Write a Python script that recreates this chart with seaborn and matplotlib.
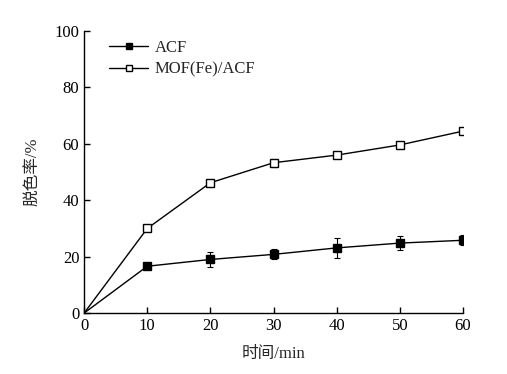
import numpy as np
import matplotlib
matplotlib.use('Agg')
import matplotlib.pyplot as plt
import pandas as pd
import seaborn as sns

tempo = [0, 10, 20, 30, 40, 50, 60]
acf = [0, 16.6, 19.0, 20.8, 23.1, 24.8, 25.8]
acf_err = [0, 1.0, 2.5, 1.8, 3.6, 2.6, 1.8]
mof = [0, 30.0, 46.2, 53.3, 56.0, 59.6, 64.5]
mof_err = [0, 0.8, 0.5, 1.5, 0.5, 1.0, 0.8]
series = ['ACF', 'MOF(Fe)/ACF']

sns.set_style('ticks')
plt.rcParams['font.family'] = ['Liberation Serif', 'Noto Sans CJK SC']

df = pd.DataFrame({
    'tempo': tempo * 2,
    'taxa': acf + mof,
    'serie': [series[0]] * len(tempo) + [series[1]] * len(tempo),
})

fig = plt.figure(figsize=(5.07, 3.74), dpi=100)
ax = fig.add_axes([0.166, 0.163, 0.747, 0.754])

sns.lineplot(data=df, x='tempo', y='taxa', hue='serie', style='serie',
             palette=['black', 'black'], markers=['s', 's'], dashes=False,
             linewidth=1.0, markersize=5.5, ax=ax, legend=False)
linhas = ax.get_lines()
linhas[0].set_markerfacecolor('black')
linhas[0].set_markeredgecolor('black')
linhas[1].set_markerfacecolor('white')
linhas[1].set_markeredgecolor('black')
for ln in linhas:
    ln.set_markeredgewidth(1.0)
    ln.set_markevery(range(1, len(tempo)))

ax.errorbar(tempo[1:], acf[1:], yerr=acf_err[1:], fmt='none', ecolor='black',
            elinewidth=0.8, capsize=2.5, capthick=0.8, zorder=1)
ax.errorbar(tempo[1:], mof[1:], yerr=mof_err[1:], fmt='none', ecolor='black',
            elinewidth=0.8, capsize=2.5, capthick=0.8, zorder=1)

h1, = ax.plot([], [], '-s', color='black', mfc='black', ms=5, lw=1.0)
h2, = ax.plot([], [], '-s', color='black', mfc='white', ms=5, lw=1.0)
ax.legend([h1, h2], series, loc='upper left', bbox_to_anchor=(0.027, 1.022),
          frameon=False, fontsize=12, handlelength=2.3, handletextpad=0.4,
          labelspacing=0.35)

ax.set_xlim(0, 60)
ax.set_ylim(0, 100)
ax.set_xticks(range(0, 61, 10))
ax.set_yticks(range(0, 101, 20))
ax.tick_params(direction='in', length=4, width=1, labelsize=12, colors='black')
sns.despine(ax=ax)
for s in ['left', 'bottom']:
    ax.spines[s].set_linewidth(1.0)
    ax.spines[s].set_color('black')

ax.set_xlabel('时间/min', fontsize=12, labelpad=9)
ax.set_ylabel('脱色率/%', fontsize=12, labelpad=10)

fig.savefig('out.png', dpi=100)
